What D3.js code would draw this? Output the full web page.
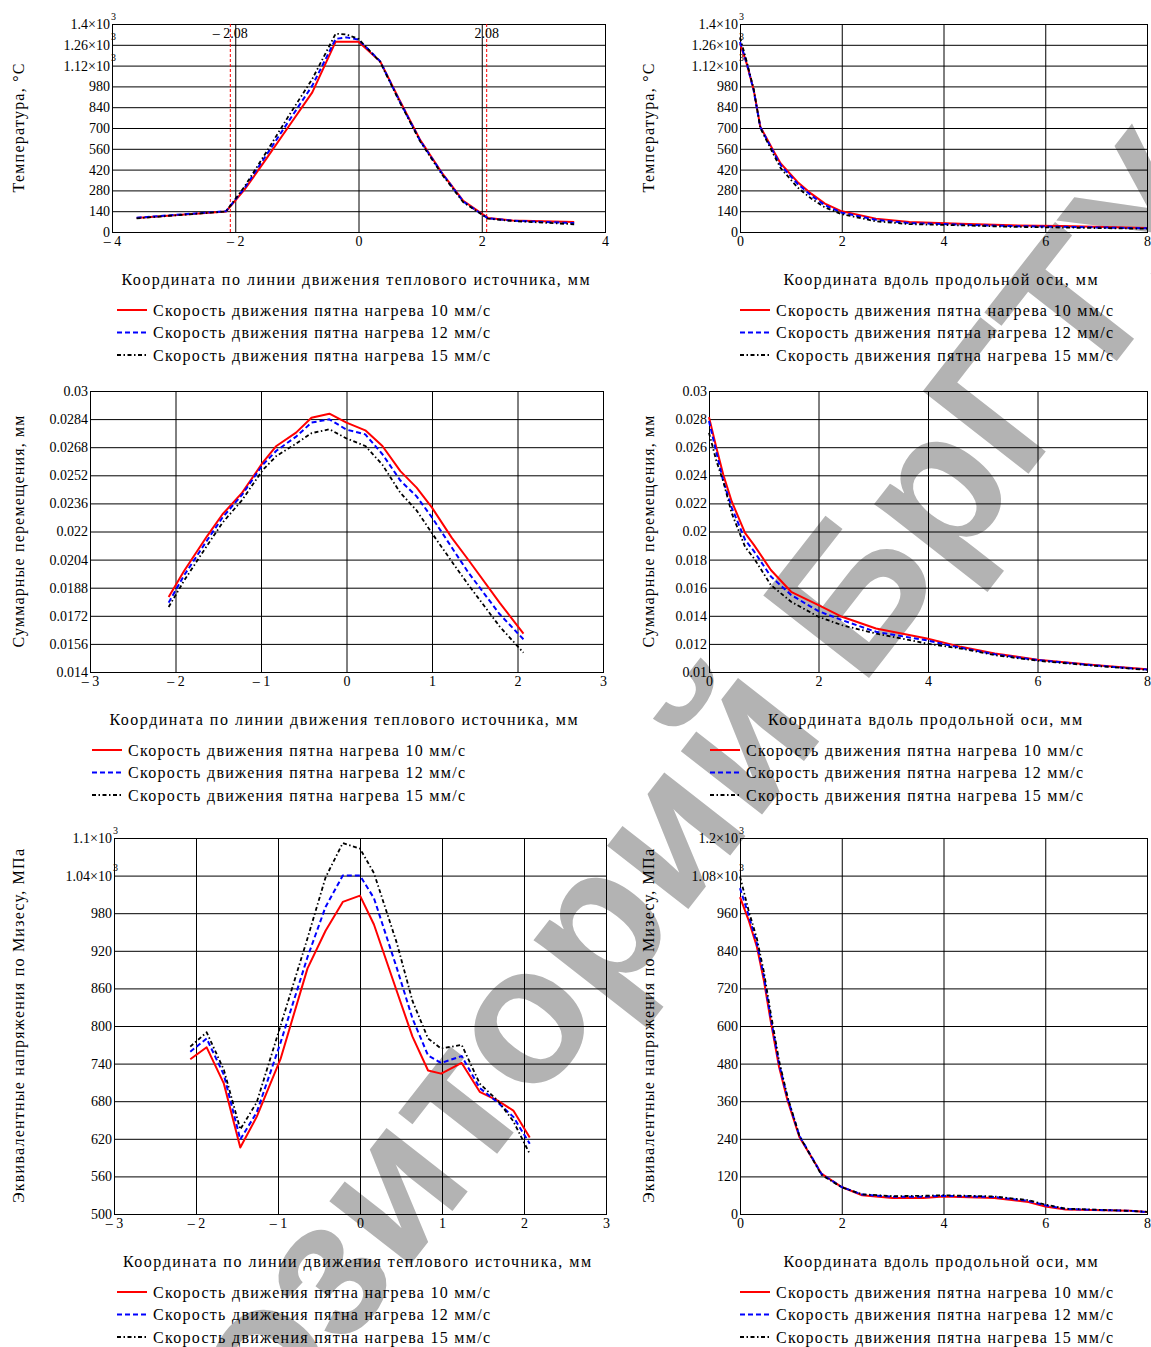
<!DOCTYPE html>
<html>
<head>
<meta charset="utf-8">
<script src="https://cdn.jsdelivr.net/npm/d3@7"></script>
<style>
  body { margin: 0; background: #fff; }
  svg { display: block; }
  text { font-family: "Liberation Serif", "Times New Roman", serif; fill: #000; }
  .wm { font-family: "Liberation Sans", Arial, sans-serif; font-weight: bold; fill: #b3b3b3; }
</style>
</head>
<body>
<div id="chart"></div>
<script>
const seriesNames = [
  "Скорость движения пятна нагрева 10 мм/с",
  "Скорость движения пятна нагрева 12 мм/с",
  "Скорость движения пятна нагрева 15 мм/с"
]

const xTitleLine = "Координата по линии движения теплового источника, мм"
const xTitleAxis = "Координата вдоль продольной оси, мм"
const yTitleTemp = "Температура, °C"
const yTitleDisp = "Суммарные перемещения, мм"
const yTitleStress = "Эквивалентные напряжения по Мизесу, МПа"

const xTicksLine4 = [-4, -2, 0, 2, 4]
const xTicksLine3 = [-3, -2, -1, 0, 1, 2, 3]
const xTicksAxis = [0, 2, 4, 6, 8]

const tempTicks = [0, 140, 280, 420, 560, 700, 840, 980, 1120, 1260, 1400]
const dispLineTicks = [0.014, 0.0156, 0.0172, 0.0188, 0.0204, 0.022, 0.0236, 0.0252, 0.0268, 0.0284, 0.03]
const dispAxisTicks = [0.01, 0.012, 0.014, 0.016, 0.018, 0.02, 0.022, 0.024, 0.026, 0.028, 0.03]
const stressLineTicks = [500, 560, 620, 680, 740, 800, 860, 920, 980, 1040, 1100]
const stressAxisTicks = [0, 120, 240, 360, 480, 600, 720, 840, 960, 1080, 1200]

// маркеры ширины зоны нагрева
const tempMarkers = [-2.08, 2.08]

// температура по линии движения источника
const tempLineX = [-3.6, -2.15, -1.85, -1.5, -1.15, -0.75, -0.37, -0.2, 0, 0.35, 0.65, 1.0, 1.35, 1.7, 2.1, 2.5, 3.5]
const tempLine10 = [94, 138, 285, 490, 700, 940, 1281, 1281, 1281, 1150, 900, 620, 400, 210, 95, 78, 68]
const tempLine12 = [96, 140, 295, 515, 735, 985, 1300, 1310, 1295, 1150, 895, 615, 398, 205, 92, 76, 60]
const tempLine15 = [92, 138, 305, 535, 770, 1030, 1335, 1330, 1300, 1145, 890, 610, 390, 200, 90, 74, 52]

// температура вдоль продольной оси
const tempAxisX = [0, 0.13, 0.27, 0.4, 0.67, 0.8, 1.13, 1.4, 1.67, 2.0, 2.67, 3.33, 4.33, 5.33, 6.33, 8]
const tempAxis10 = [1270, 1135, 955, 708, 539, 461, 337, 258, 191, 139, 90, 67, 56, 45, 40, 27]
const tempAxis12 = [1280, 1140, 950, 705, 530, 450, 325, 245, 180, 130, 82, 60, 50, 40, 35, 25]
const tempAxis15 = [1310, 1150, 960, 700, 515, 430, 300, 225, 165, 120, 72, 53, 45, 35, 30, 22]

// перемещения по линии движения источника
const dispLineX = [-2.08, -1.9, -1.63, -1.45, -1.22, -0.98, -0.82, -0.59, -0.41, -0.2, 0, 0.22, 0.42, 0.63, 0.82, 1.0, 1.23, 1.42, 1.79, 2.07]
const dispLine10 = [0.01827, 0.01975, 0.02174, 0.02298, 0.02421, 0.02592, 0.02687, 0.02763, 0.02848, 0.02871, 0.0282, 0.02776, 0.02687, 0.02544, 0.0245, 0.02336, 0.02165, 0.02042, 0.01795, 0.01618]
const dispLine12 = [0.01795, 0.0195, 0.0215, 0.0228, 0.0241, 0.0258, 0.0266, 0.0274, 0.0282, 0.02839, 0.0278, 0.02753, 0.0264, 0.0249, 0.024, 0.0228, 0.0211, 0.0197, 0.0173, 0.01586]
const dispLine15 = [0.0177, 0.0192, 0.0212, 0.0225, 0.0238, 0.0255, 0.0263, 0.027, 0.0276, 0.02782, 0.0273, 0.02687, 0.0258, 0.0242, 0.0232, 0.0219, 0.0203, 0.019, 0.0166, 0.0151]

// перемещения вдоль продольной оси
const dispAxisX = [0, 0.136, 0.26, 0.415, 0.66, 0.82, 1.13, 1.5, 2.0, 2.43, 3.05, 3.98, 4.6, 5.22, 6.0, 7.08, 8]
const dispAxis10 = [0.02814, 0.02595, 0.02405, 0.02214, 0.01988, 0.01905, 0.01726, 0.01571, 0.01476, 0.01393, 0.0131, 0.01238, 0.01179, 0.01131, 0.01088, 0.01048, 0.01019]
const dispAxis12 = [0.02786, 0.0256, 0.0236, 0.0217, 0.0194, 0.0186, 0.0168, 0.01548, 0.01433, 0.01369, 0.01286, 0.01225, 0.01172, 0.01126, 0.01085, 0.01046, 0.01017]
const dispAxis15 = [0.02702, 0.025, 0.02357, 0.0213, 0.0189, 0.0181, 0.01619, 0.015, 0.01393, 0.01333, 0.01274, 0.01202, 0.01167, 0.0112, 0.0108, 0.01043, 0.01015]

// напряжения по линии движения источника
const stressLineX = [-2.07, -1.87, -1.66, -1.46, -1.26, -0.97, -0.64, -0.42, -0.21, 0, 0.17, 0.45, 0.64, 0.83, 0.99, 1.24, 1.46, 1.68, 1.87, 2.07]
const stressLine10 = [747, 766, 708, 606, 655, 747, 892, 952, 998, 1008, 962, 855, 783, 729, 724, 741, 695, 681, 665, 622]
const stressLine12 = [759, 780, 722, 619, 662, 773, 910, 990, 1040, 1040, 1004, 892, 812, 753, 741, 752, 701, 678, 655, 612]
const stressLine15 = [767, 790, 730, 635, 678, 800, 940, 1037, 1092, 1083, 1044, 932, 840, 780, 764, 770, 708, 681, 648, 596]

// напряжения вдоль продольной оси
const stressAxisX = [0, 0.167, 0.33, 0.467, 0.6, 0.767, 0.933, 1.167, 1.6, 2.0, 2.4, 3.0, 3.6, 4.0, 5.0, 5.67, 6.0, 6.4, 7.67, 8]
const stressAxis10 = [1011, 939, 854, 747, 619, 470, 363, 246, 129, 86, 60, 51, 51, 56, 51, 38, 24, 14, 10, 6]
const stressAxis12 = [1040, 955, 865, 760, 630, 480, 370, 250, 128, 86, 62, 55, 55, 58, 54, 42, 28, 16, 10, 6]
const stressAxis15 = [1077, 970, 880, 775, 645, 490, 375, 250, 125, 85, 63, 57, 58, 60, 56, 44, 30, 17, 10, 7]

// ---- оформление ----
const W = 1151
const H = 1347
const seriesStyle = [
  {color: "#ff0000", width: 2, dash: null},
  {color: "#0000ff", width: 2, dash: "5,3"},
  {color: "#000000", width: 1.8, dash: "4,2.5,1.5,2.5"}
]

const panels = [
  {box: [112, 24, 605, 232], xDomain: [-4, 4], xTicks: xTicksLine4, yTicks: tempTicks,
    x: tempLineX, ys: [tempLine10, tempLine12, tempLine15], xTitle: xTitleLine, xTitleLen: 468,
    yTitle: yTitleTemp, yTitleLen: 129, yTitleX: 18, legendX: 117, markers: tempMarkers},
  {box: [740, 24, 1147, 232], xDomain: [0, 8], xTicks: xTicksAxis, yTicks: tempTicks,
    x: tempAxisX, ys: [tempAxis10, tempAxis12, tempAxis15], xTitle: xTitleAxis, xTitleLen: 314,
    yTitle: yTitleTemp, yTitleLen: 129, yTitleX: 648, legendX: 740},
  {box: [90, 391, 603, 672], xDomain: [-3, 3], xTicks: xTicksLine3, yTicks: dispLineTicks,
    x: dispLineX, ys: [dispLine10, dispLine12, dispLine15], xTitle: xTitleLine, xTitleLen: 468,
    yTitle: yTitleDisp, yTitleLen: 232, yTitleX: 18, legendX: 92},
  {box: [709, 391, 1147, 672], xDomain: [0, 8], xTicks: xTicksAxis, yTicks: dispAxisTicks,
    x: dispAxisX, ys: [dispAxis10, dispAxis12, dispAxis15], xTitle: xTitleAxis, xTitleLen: 314,
    yTitle: yTitleDisp, yTitleLen: 232, yTitleX: 648, legendX: 710},
  {box: [114, 838, 606, 1214], xDomain: [-3, 3], xTicks: xTicksLine3, yTicks: stressLineTicks,
    x: stressLineX, ys: [stressLine10, stressLine12, stressLine15], xTitle: xTitleLine, xTitleLen: 468,
    yTitle: yTitleStress, yTitleLen: 354, yTitleX: 18, legendX: 117},
  {box: [740, 838, 1147, 1214], xDomain: [0, 8], xTicks: xTicksAxis, yTicks: stressAxisTicks,
    x: stressAxisX, ys: [stressAxis10, stressAxis12, stressAxis15], xTitle: xTitleAxis, xTitleLen: 314,
    yTitle: yTitleStress, yTitleLen: 354, yTitleX: 648, legendX: 740}
]

const svg = d3.select("#chart").append("svg").attr("width", W).attr("height", H)

// водяной знак репозитория — под графиками
svg.append("text")
  .attr("class", "wm")
  .attr("transform", "translate(592,922) rotate(-52)")
  .attr("text-anchor", "middle")
  .attr("dominant-baseline", "central")
  .attr("font-size", 195)
  .text("Репозиторий БрГТУ")

const fmtX = d => (d < 0 ? "– " + (-d) : String(d))

panels.forEach(drawPanel)

function drawPanel(p) {
  const [x0, y0, x1, y1] = p.box
  const x = d3.scaleLinear().domain(p.xDomain).range([x0, x1])
  const y = d3.scaleLinear().domain([p.yTicks[0], p.yTicks[p.yTicks.length - 1]]).range([y1, y0])
  const g = svg.append("g")

  // сетка и подписи по X
  g.append("g")
    .attr("transform", `translate(0,${y1})`)
    .call(d3.axisBottom(x).tickValues(p.xTicks).tickFormat(fmtX)
      .tickSizeInner(-(y1 - y0)).tickSizeOuter(0).tickPadding(4))
    .call(s => s.select(".domain").remove())
    .attr("font-family", null).attr("font-size", 14)

  // сетка и подписи по Y
  const ya = g.append("g")
    .attr("transform", `translate(${x0},0)`)
    .call(d3.axisLeft(y).tickValues(p.yTicks)
      .tickFormat(v => (v >= 1000 ? (v / 1000) + "×10" : String(v)))
      .tickSizeInner(-(x1 - x0)).tickSizeOuter(0).tickPadding(2))
    .call(s => s.select(".domain").remove())
    .attr("font-family", null).attr("font-size", 14)
  // степень 10^3
  ya.selectAll(".tick").filter(v => v >= 1000)
    .append("text")
    .attr("x", -1).attr("y", -5)
    .attr("font-size", 10)
    .attr("text-anchor", "start")
    .text("3")

  // рамка
  g.append("rect")
    .attr("x", x0 + 0.5).attr("y", y0 + 0.5)
    .attr("width", x1 - x0).attr("height", y1 - y0)
    .attr("fill", "none").attr("stroke", "#000").attr("stroke-width", 1)

  // вертикальные маркеры
  if (p.markers) {
    const mk = g.selectAll(".marker").data(p.markers).enter().append("g").attr("class", "marker")
    mk.append("line")
      .attr("x1", d => x(d)).attr("x2", d => x(d))
      .attr("y1", y0).attr("y2", y1)
      .attr("stroke", "#ff0000").attr("stroke-width", 1).attr("stroke-dasharray", "3,2")
    mk.append("text")
      .attr("x", d => x(d)).attr("y", y0 + 9)
      .attr("dy", "0.35em")
      .attr("text-anchor", "middle")
      .attr("font-size", 14)
      .text(d => fmtX(d))
  }

  // кривые
  p.ys.forEach((vals, i) => {
    const line = d3.line().x((d, j) => x(p.x[j])).y(d => y(d))
    const st = seriesStyle[i]
    g.append("path")
      .datum(vals)
      .attr("d", line)
      .attr("fill", "none")
      .attr("stroke", st.color)
      .attr("stroke-width", st.width)
      .attr("stroke-dasharray", st.dash)
      .attr("stroke-linejoin", "round")
  })

  // подпись оси X
  g.append("text")
    .attr("x", (x0 + x1) / 2 - 3).attr("y", y1 + 47)
    .attr("dy", "0.35em")
    .attr("text-anchor", "middle")
    .attr("font-size", 16)
    .attr("textLength", p.xTitleLen).attr("lengthAdjust", "spacing")
    .text(p.xTitle)

  // подпись оси Y
  g.append("text")
    .attr("transform", `translate(${p.yTitleX},${(y0 + y1) / 2}) rotate(-90)`)
    .attr("dy", "0.35em")
    .attr("text-anchor", "middle")
    .attr("font-size", 16)
    .attr("textLength", p.yTitleLen).attr("lengthAdjust", "spacing")
    .text(p.yTitle)

  // легенда
  const lg = g.selectAll(".legend").data(seriesNames).enter().append("g")
    .attr("class", "legend")
    .attr("transform", (d, i) => `translate(${p.legendX},${y1 + 78 + i * 22.5})`)
  lg.append("line")
    .attr("x1", 0).attr("x2", 30)
    .attr("stroke", (d, i) => seriesStyle[i].color)
    .attr("stroke-width", (d, i) => seriesStyle[i].width)
    .attr("stroke-dasharray", (d, i) => seriesStyle[i].dash)
  lg.append("text")
    .attr("x", 36).attr("dy", "0.35em")
    .attr("font-size", 16)
    .attr("textLength", 337).attr("lengthAdjust", "spacing")
    .text(d => d)
}
</script>
</body>
</html>
